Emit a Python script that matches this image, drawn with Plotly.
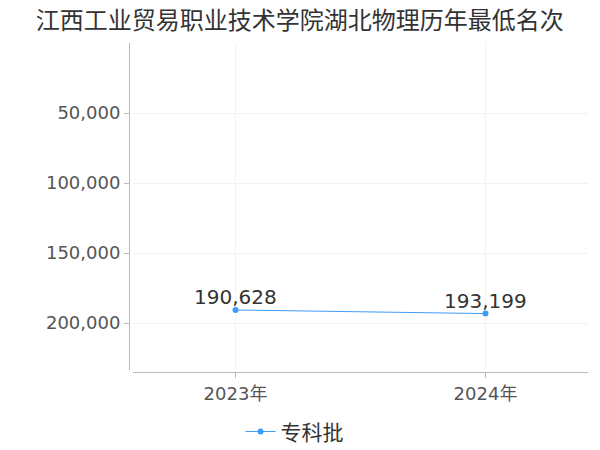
import plotly.graph_objects as go

# data
years = ["2023年", "2024年"]
ranks = [190628, 193199]
series_name = "专科批"
title_text = "江西工业贸易职业技术学院湖北物理历年最低名次"
y_ticks = [50000, 100000, 150000, 200000]

line_color = "#3d9cf7"
font_family = "DejaVu Sans, Noto Sans CJK SC, sans-serif"
cjk_family = "Noto Sans CJK SC, sans-serif"

fig = go.Figure()
fig.add_trace(go.Scatter(
    x=years, y=ranks, name=series_name,
    mode="lines+markers",
    line=dict(color=line_color, width=1),
    marker=dict(size=6, color=line_color),
    cliponaxis=False,
))

# value labels just above each point
for yr, v in zip(years, ranks):
    fig.add_annotation(x=yr, y=v, text=f"{v:,}", showarrow=False,
                       xanchor="center", yanchor="middle", yshift=13,
                       font=dict(size=20, color="#333333", family=font_family))

# page body has an 8px margin, so the figure is sized to fit the window
fig.update_layout(
    width=592, height=442,
    paper_bgcolor="white", plot_bgcolor="white",
    margin=dict(l=121, r=12, t=35, b=78),
    font=dict(family=font_family, color="#555555"),
    title=dict(text=title_text, x=0.493, xanchor="center", y=0.972, yanchor="middle",
               font=dict(size=24, color="#333333", family=cjk_family)),
    showlegend=True,
    legend=dict(orientation="h", xref="container", x=0.484, xanchor="center",
                yref="container", y=0.041, yanchor="middle", itemwidth=30,
                font=dict(size=21, color="#333333", family=cjk_family)),
    xaxis=dict(
        domain=[0.0087, 1], range=[-0.41, 1.41],
        showgrid=True, gridcolor="#f2f2f2",
        showline=True, linecolor="#bbbbbb", linewidth=1,
        ticks="outside", ticklen=5, tickcolor="#bbbbbb",
        tickfont=dict(size=18, color="#555555"),
        anchor="free", position=0, zeroline=False, automargin=False,
    ),
    yaxis=dict(
        domain=[0.006, 1], range=[233500, 0],
        tickvals=y_ticks, tickformat=",",
        showgrid=True, gridcolor="#f2f2f2",
        showline=True, linecolor="#bbbbbb", linewidth=1,
        ticks="outside", ticklen=5, tickcolor="#bbbbbb",
        tickfont=dict(size=18, color="#555555"),
        anchor="free", position=0, zeroline=False, automargin=False,
    ),
)

fig.write_html("out.html")
